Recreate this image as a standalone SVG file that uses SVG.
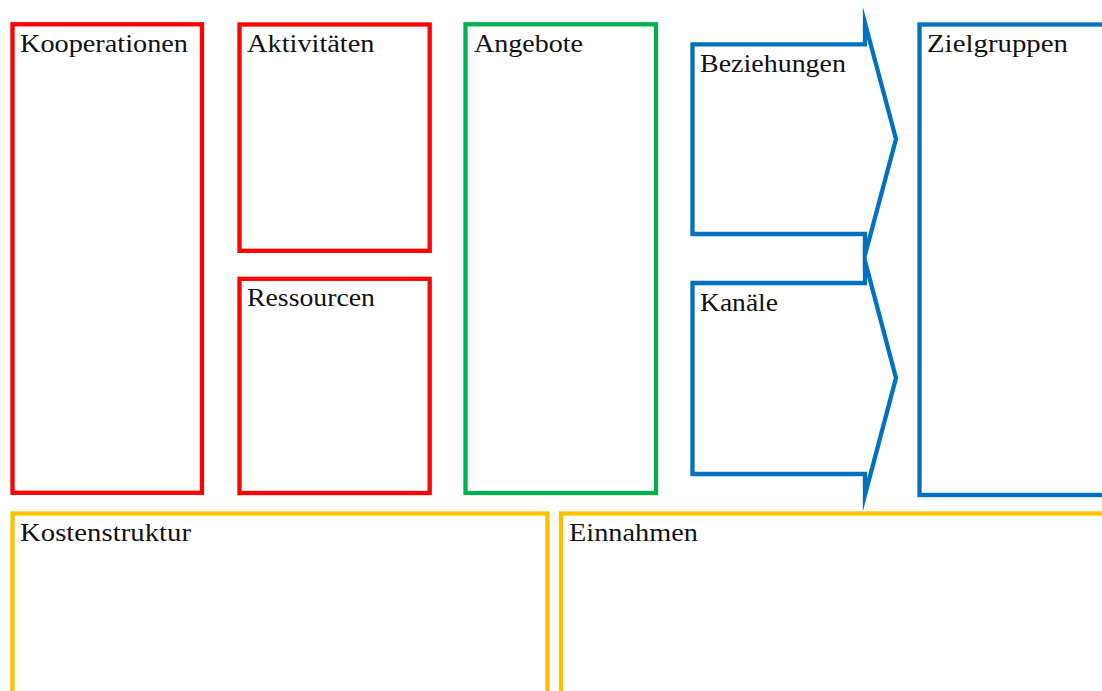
<svg xmlns="http://www.w3.org/2000/svg" width="1102" height="691" viewBox="0 0 1102 691">
<style>
.box{fill:none;stroke-width:4.3;stroke-linejoin:miter;stroke-miterlimit:20}
.red{stroke:#FF0000}
.green{stroke:#00B050}
.blue{stroke:#0070C0}
.yellow{stroke:#FFC000}
.lbl{font-family:"Liberation Serif","DejaVu Serif",serif;font-size:26px;fill:#111}
</style>
<rect width="1102" height="691" fill="#fff"/>
<g id="kooperationen">
<rect class="box red" x="12.5" y="24.3" width="189.5" height="468.5"/>
<text class="lbl" x="20" y="52" textLength="168" lengthAdjust="spacingAndGlyphs">Kooperationen</text>
</g>
<g id="aktivitaeten">
<rect class="box red" x="239.5" y="24.5" width="190.2" height="226.3"/>
<text class="lbl" x="247" y="52" textLength="127.5" lengthAdjust="spacingAndGlyphs">Aktivitäten</text>
</g>
<g id="ressourcen">
<rect class="box red" x="239.5" y="278.8" width="190.2" height="214.2"/>
<text class="lbl" x="247" y="306" textLength="128" lengthAdjust="spacingAndGlyphs">Ressourcen</text>
</g>
<g id="angebote">
<rect class="box green" x="465.5" y="24.3" width="190.5" height="468.7"/>
<text class="lbl" x="474" y="52" textLength="109" lengthAdjust="spacingAndGlyphs">Angebote</text>
</g>
<g id="beziehungen">
<polygon class="box blue" points="692.5,44.3 865,44.3 865,23 896,139 865,255 865,234 692.5,234"/>
<text class="lbl" x="700" y="72" textLength="146" lengthAdjust="spacingAndGlyphs">Beziehungen</text>
</g>
<g id="kanaele">
<polygon class="box blue" points="692.5,283 865,283 865,261 896,378 865,495 865,474 692.5,474"/>
<text class="lbl" x="700" y="311" textLength="78" lengthAdjust="spacingAndGlyphs">Kanäle</text>
</g>
<g id="zielgruppen">
<rect class="box blue" x="919.5" y="24.5" width="200" height="470.5"/>
<text class="lbl" x="927" y="52" textLength="141" lengthAdjust="spacingAndGlyphs">Zielgruppen</text>
</g>
<g id="kostenstruktur">
<rect class="box yellow" x="12.5" y="513.5" width="535" height="200"/>
<text class="lbl" x="20" y="541" textLength="171" lengthAdjust="spacingAndGlyphs">Kostenstruktur</text>
</g>
<g id="einnahmen">
<rect class="box yellow" x="561" y="513.5" width="560" height="200"/>
<text class="lbl" x="569" y="541" textLength="129" lengthAdjust="spacingAndGlyphs">Einnahmen</text>
</g>
<g id="connectors"/>
</svg>
